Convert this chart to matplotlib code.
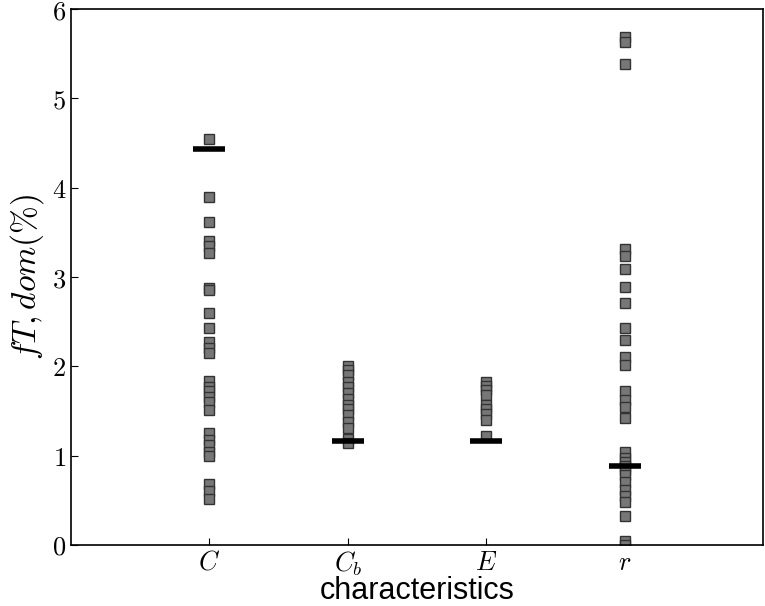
import matplotlib
matplotlib.use("Agg")
import matplotlib.pyplot as plt

plt.rcParams['mathtext.fontset'] = 'cm'

categories = ['$C$', '$C_b$', '$E$', '$r$']
yticks = [0, 1, 2, 3, 4, 5, 6]

vals_C = [4.55, 3.90, 3.62, 3.40, 3.35, 3.27, 2.88, 2.85, 2.60, 2.43, 2.27, 2.20,
          2.15, 1.84, 1.77, 1.72, 1.66, 1.60, 1.51, 1.25, 1.18, 1.12, 1.04, 1.00,
          0.68, 0.60, 0.52]
vals_Cb = [2.00, 1.96, 1.90, 1.82, 1.77, 1.70, 1.63, 1.57, 1.52, 1.45, 1.38,
           1.31, 1.19, 1.14]
vals_E = [1.82, 1.78, 1.74, 1.68, 1.57, 1.52, 1.47, 1.40, 1.22]
vals_r = [5.69, 5.63, 5.38, 3.31, 3.23, 3.09, 2.89, 2.71, 2.43, 2.30, 2.11, 2.02,
          1.72, 1.62, 1.55, 1.42, 1.04, 0.97, 0.93, 0.88, 0.84, 0.78, 0.70, 0.62,
          0.55, 0.48, 0.32, 0.04, 0.0]
bars = [4.43, 1.16, 1.16, 0.88]

series = [vals_C, vals_Cb, vals_E, vals_r]

fig = plt.figure(figsize=(7.65, 6.06), dpi=100)
ax = fig.add_axes([0.0928, 0.1007, 0.9046, 0.8843])

for i, vals in enumerate(series):
    x = [i + 1] * len(vals)
    ax.plot(x, vals, linestyle='none', marker='s', markersize=7.2,
            markerfacecolor='#777777', markeredgecolor='#333333',
            markeredgewidth=1.0, clip_on=True, zorder=2)
    ax.plot([i + 1], [bars[i]], linestyle='none', marker='_', markersize=23,
            markeredgewidth=4, color='black', zorder=3)

ax.set_xlim(0, 5)
ax.set_ylim(0, 6)
ax.set_xticks([1, 2, 3, 4])
ax.set_xticklabels(categories, fontsize=19)
ax.set_yticks(yticks)
ax.set_yticklabels(['$%d$' % t for t in yticks], fontsize=19)
ax.tick_params(direction='in', length=5, width=0.8, top=False, right=False)
for s in ax.spines.values():
    s.set_linewidth(1.2)

ax.set_xlabel('characteristics', fontsize=22, family='Liberation Sans', labelpad=-2)
ax.set_ylabel(r'$fT,dom(\%)$', fontsize=24, labelpad=4)

fig.savefig('out.png', dpi=100)
